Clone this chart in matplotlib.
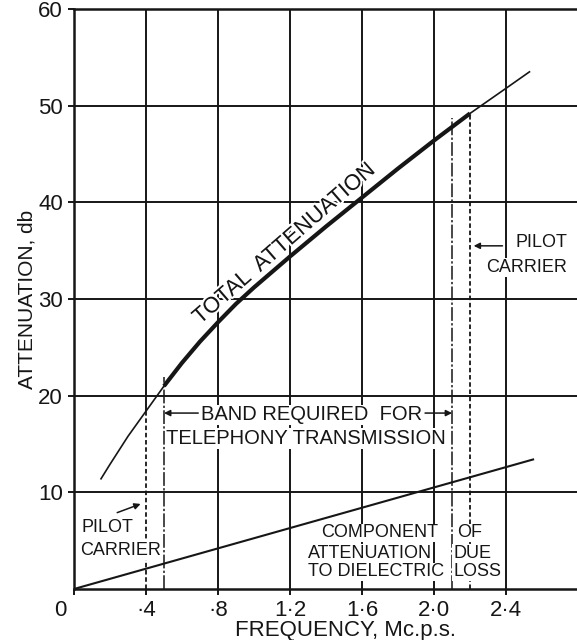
import matplotlib
matplotlib.use('Agg')
import numpy as np
import matplotlib.pyplot as plt
import matplotlib.patheffects as pe
from matplotlib.transforms import ScaledTranslation

# total attenuation of the cable, db against frequency in Mc/s
total_freq = [0.15, 0.2, 0.3, 0.4, 0.5, 0.6, 0.7, 0.8, 0.9, 1.0, 1.2, 1.4,
              1.6, 1.8, 2.0, 2.1, 2.2, 2.3, 2.4, 2.53]
total_db = [11.4, 12.9, 15.8, 18.4, 21.0, 23.4, 25.6, 27.6, 29.5, 31.2, 34.4,
            37.5, 40.5, 43.5, 46.4, 47.8, 49.2, 50.5, 51.8, 53.5]

# part of the attenuation caused by dielectric loss
dielectric_freq = [0.0, 2.55]
dielectric_db = [0.0, 13.4]

pilot_freq = [0.4, 2.2]
band_freq = [0.5, 2.1]

x_ticks = [0, 0.4, 0.8, 1.2, 1.6, 2.0, 2.4]
x_tick_labels = ['0', '·4', '·8', '1·2', '1·6', '2·0', '2·4']
y_ticks = [10, 20, 30, 40, 50, 60]

INK = '#161616'
BOX = dict(facecolor='white', edgecolor='none', pad=0.6)


def label(ax, x, y, s, size=13, ha='center', **kw):
    ax.text(x, y, s, fontsize=size, ha=ha, va='center', color=INK,
            bbox=BOX, zorder=4, **kw)


def arrow(ax, start, end):
    ax.annotate('', xy=end, xytext=start,
                arrowprops=dict(arrowstyle='-|>', color=INK, lw=1.1,
                                mutation_scale=9, shrinkA=0, shrinkB=0),
                zorder=4)


plt.rcParams['font.family'] = ['Liberation Sans', 'DejaVu Sans']

fig = plt.figure(figsize=(5.77, 6.4), dpi=100)
ax = fig.add_axes([74 / 577, 51 / 640, 503 / 577, 580 / 640])
ax.set_xlim(0, 2.794)
ax.set_ylim(0, 60)

ax.set_xticks(x_ticks)
ax.set_xticklabels(x_tick_labels)
ax.set_yticks(y_ticks)
ax.tick_params(direction='out', length=4, width=1.4, color=INK,
               labelsize=16, labelcolor=INK, pad=4)
# the shared origin label sits off to the left of the corner
zero = ax.get_xticklabels()[0]
zero.set_transform(zero.get_transform() +
                   ScaledTranslation(-0.14, 0, fig.dpi_scale_trans))

for sp in ['left', 'bottom', 'top']:
    ax.spines[sp].set_linewidth(1.8)
    ax.spines[sp].set_color(INK)
ax.spines['right'].set_visible(False)

# grid; the pilot line at 0.4 only shows above the curve
for y in y_ticks[:-1]:
    ax.axhline(y, color=INK, lw=1.4, zorder=1)
for x in x_ticks[1:]:
    bottom = np.interp(x, total_freq, total_db) if x in pilot_freq else 0
    ax.vlines(x, bottom, 60, color=INK, lw=1.4, zorder=1)

# pilot carriers and edges of the telephony band
for f in pilot_freq:
    ax.vlines(f, 0, np.interp(f, total_freq, total_db), color=INK, lw=1.3,
              linestyles=(0, (2.5, 1.5)), zorder=2)
for f in band_freq:
    ax.vlines(f, 0, np.interp(f, total_freq, total_db) + 0.9, color=INK,
              lw=1.1, linestyles=(0, (9, 1.5, 1.5, 1.5)), zorder=2)

freq = np.array(total_freq)
db = np.array(total_db)
ax.plot(freq, db, color=INK, lw=1.2, zorder=3)
used = (freq >= band_freq[0]) & (freq <= pilot_freq[1])
ax.plot(freq[used], db[used], color=INK, lw=3.0, zorder=3,
        solid_capstyle='butt')
ax.plot(dielectric_freq, dielectric_db, color=INK, lw=1.5, zorder=3)

ax.text(1.17, 35.7, 'TOTAL  ATTENUATION', rotation=41, rotation_mode='anchor',
        ha='center', va='center', fontsize=16, color=INK, zorder=4,
        path_effects=[pe.withStroke(linewidth=3, foreground='white')])

label(ax, 1.32, 18.0, 'BAND REQUIRED  FOR', size=14.5)
label(ax, 1.29, 15.6, 'TELEPHONY TRANSMISSION', size=14.5)
arrow(ax, (0.69, 18.2), (band_freq[0], 18.2))
arrow(ax, (1.95, 18.2), (band_freq[1], 18.2))

label(ax, 0.044, 6.4, 'PILOT', ha='left')
label(ax, 0.033, 4.0, 'CARRIER', ha='left')
arrow(ax, (0.24, 7.9), (0.37, 8.8))

label(ax, 2.739, 35.8, 'PILOT', ha='right')
label(ax, 2.739, 33.3, 'CARRIER', ha='right')
arrow(ax, (2.38, 35.5), (2.22, 35.5))

label(ax, 1.70, 5.8, 'COMPONENT')
label(ax, 1.644, 3.7, 'ATTENUATION')
label(ax, 1.678, 1.76, 'TO DIELECTRIC')
label(ax, 2.128, 5.8, 'OF', ha='left')
label(ax, 2.106, 3.7, 'DUE', ha='left')
label(ax, 2.106, 1.76, 'LOSS', ha='left')

ax.set_xlabel('FREQUENCY, Mc.p.s.', fontsize=16, color=INK)
ax.xaxis.set_label_coords(0.539, -0.053)
ax.set_ylabel('ATTENUATION, db', fontsize=15, color=INK)
ax.yaxis.set_label_coords(-0.075, 0.5)

fig.savefig('out.png', dpi=100)
